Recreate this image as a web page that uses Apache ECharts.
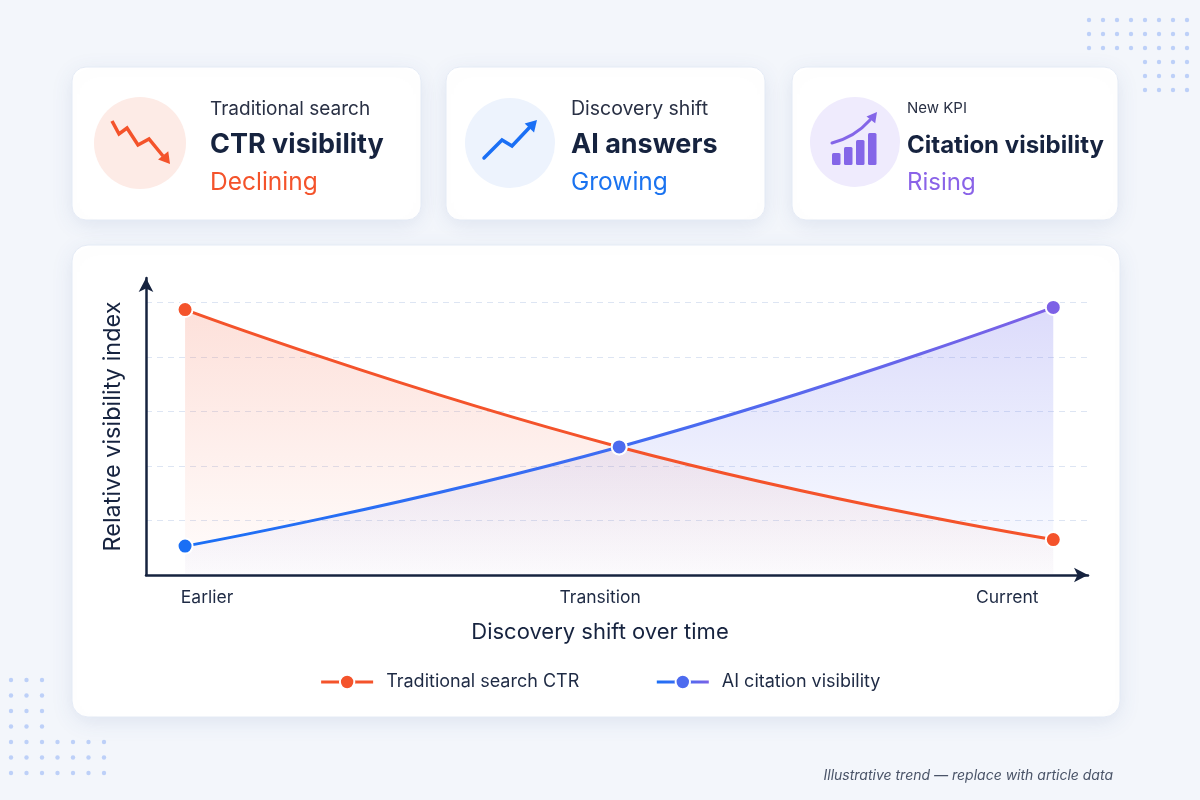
<!DOCTYPE html>
<html>
<head>
<meta charset="utf-8">
<title>Discovery shift over time</title>
<script src="https://cdn.jsdelivr.net/npm/echarts@6/dist/echarts.min.js"></script>
<style>
  html, body { margin: 0; padding: 0; background: #f3f6fb; }
  #container { width: 1200px; height: 800px; }
</style>
</head>
<body>
<div id="container"></div>
<script>
// data
var stages = ['Earlier', 'Transition', 'Current'];
var ctrValues = [4.87, 2.35, 0.65];
var aiValues = [0.53, 2.35, 4.91];
var aiPointColors = ['#1a6ff5', '#4d6bef', '#7d61e6'];

var FONT = 'Inter, "Noto Sans", sans-serif';
var NAVY = '#16233f';

function pairs(vals) {
    return vals.map(function (v, i) { return [i, v]; });
}

// background dots
function dots(x0, y0, cols, rows, step) {
    var out = [];
    for (var r = 0; r < rows; r++) {
        for (var c = 0; c < cols; c++) {
            out.push({
                type: 'circle', silent: true, z: -20,
                shape: { cx: x0 + c * step, cy: y0 + r * step, r: 2.2 },
                style: { fill: '#bdd0f8' }
            });
        }
    }
    return out;
}

function panel(x, y, w, h, r) {
    return {
        type: 'rect', silent: true, z: -10,
        shape: { x: x, y: y, width: w, height: h, r: r },
        style: {
            fill: '#ffffff', stroke: '#e4eaf5', lineWidth: 1,
            shadowBlur: 22, shadowColor: 'rgba(60,90,160,0.10)', shadowOffsetY: 5
        }
    };
}

function txt(x, y, text, size, weight, color) {
    return {
        type: 'text', silent: true, z: 5,
        style: {
            x: x, y: y, text: text, fill: color,
            font: weight + ' ' + size + 'px ' + FONT,
            align: 'left', verticalAlign: 'middle'
        }
    };
}

function arrowHead(tip, dir, len, half, color) {
    var n = Math.sqrt(dir[0] * dir[0] + dir[1] * dir[1]);
    var dx = dir[0] / n, dy = dir[1] / n;
    var bx = tip[0] - dx * len, by = tip[1] - dy * len;
    return {
        type: 'polygon', silent: true, z: 6,
        shape: { points: [tip, [bx - dy * half, by + dx * half], [bx + dy * half, by - dx * half]] },
        style: { fill: color }
    };
}

var graphics = [];
graphics = graphics.concat(dots(11, 680, 3, 4, 15.5), dots(11, 742, 7, 3, 15.5));
graphics = graphics.concat(dots(1089, 20, 8, 3, 14), dots(1145, 62, 4, 3, 14));

// cards
graphics.push(panel(72, 67, 349, 153, 14));
graphics.push(panel(446, 67, 319, 153, 14));
graphics.push(panel(792, 67, 326, 153, 14));
// chart panel
graphics.push(panel(72, 245, 1048, 472, 16));

// card 1
graphics.push({ type: 'circle', silent: true, z: 4, shape: { cx: 140, cy: 143, r: 46 }, style: { fill: '#fdebe6' } });
graphics.push({
    type: 'polyline', silent: true, z: 6,
    shape: { points: [[112, 121], [119, 134], [127, 128], [138, 145], [149, 139], [163, 156]] },
    style: { stroke: '#f4532b', lineWidth: 3.5, lineJoin: 'miter', fill: null }
});
graphics.push(arrowHead([170, 164], [19, 24], 11, 6.5, '#f4532b'));
graphics.push(txt(210, 109, 'Traditional search', 19, 'normal', '#2a3145'));
graphics.push(txt(210, 145, 'CTR visibility', 27, 'bold', NAVY));
graphics.push(txt(210, 183, 'Declining', 24.5, 'normal', '#f4532b'));

// card 2
graphics.push({ type: 'circle', silent: true, z: 4, shape: { cx: 510, cy: 143, r: 45 }, style: { fill: '#edf3fd' } });
graphics.push({
    type: 'polyline', silent: true, z: 6,
    shape: { points: [[484, 158], [502, 140], [512, 146], [529, 128]] },
    style: { stroke: '#1a6ff5', lineWidth: 3.5, lineCap: 'round', fill: null }
});
graphics.push(arrowHead([537, 120], [25, -26], 11, 6.5, '#1a6ff5'));
graphics.push(txt(571, 109, 'Discovery shift', 19.5, 'normal', '#2a3145'));
graphics.push(txt(571, 145, 'AI answers', 27, 'bold', NAVY));
graphics.push(txt(571, 183, 'Growing', 24.5, 'normal', '#1a73f0'));

// card 3
graphics.push({ type: 'circle', silent: true, z: 4, shape: { cx: 855, cy: 142, r: 45 }, style: { fill: '#efebfd' } });
[[832, 153, 12], [844, 147, 18], [856, 140, 25], [868, 133, 32]].forEach(function (b) {
    graphics.push({
        type: 'rect', silent: true, z: 6,
        shape: { x: b[0], y: b[1], width: 8.5, height: b[2], r: 1.5 },
        style: { fill: '#8466e8' }
    });
});
graphics.push({
    type: 'bezierCurve', silent: true, z: 6,
    shape: { x1: 832, y1: 143, cpx1: 855, cpy1: 137, x2: 870, y2: 120 },
    style: { stroke: '#8466e8', lineWidth: 3, fill: null, lineCap: 'round' }
});
graphics.push(arrowHead([877, 112], [14, -18], 10, 5.5, '#8466e8'));
graphics.push(txt(907, 108, 'New KPI', 15, 'normal', '#2a3145'));
graphics.push(txt(907, 146, 'Citation visibility', 24, 'bold', NAVY));
graphics.push(txt(907, 183, 'Rising', 24, 'normal', '#8a63e8'));

// footnote
graphics.push({
    type: 'text', silent: true, z: 5,
    style: {
        x: 1113, y: 776, text: 'Illustrative trend \u2014 replace with article data',
        fill: '#4a5468', font: 'italic 14px ' + FONT, align: 'right', verticalAlign: 'middle'
    }
});

var dom = document.getElementById('container');
var myChart = echarts.init(dom);

var aiLineGrad = new echarts.graphic.LinearGradient(0, 0, 1, 0, [
    { offset: 0, color: '#1a6ff5' },
    { offset: 0.5, color: '#3f6cf2' },
    { offset: 1, color: '#7d61e6' }
]);

var labelStyle = { fontFamily: FONT, fontSize: 17.5, color: '#1e2a44' };

option = {
    animation: false,
    graphic: graphics,
    grid: { left: 146, right: 112, top: 278, bottom: 225 },
    legend: {
        data: [
            { name: 'Traditional search CTR' },
            { name: 'AI citation visibility', itemStyle: { color: '#4d6bef' } }
        ],
        bottom: 104,
        left: 'center',
        itemWidth: 52,
        itemHeight: 18,
        itemGap: 76,
        lineStyle: { width: 3 },
        textStyle: { fontFamily: FONT, fontSize: 18, color: '#1e2a44', padding: [0, 0, 0, 8] }
    },
    xAxis: {
        type: 'value',
        min: -0.09,
        max: 2.08,
        name: 'Discovery shift over time',
        nameLocation: 'middle',
        nameGap: 46,
        nameTextStyle: { fontFamily: FONT, fontSize: 22, color: NAVY, padding: [0, 34, 0, 0] },
        axisLine: {
            show: true, onZero: false,
            symbol: ['none', 'arrow'], symbolSize: [11, 14],
            lineStyle: { color: NAVY, width: 2.5 }
        },
        axisTick: { show: false },
        splitLine: { show: false },
        axisLabel: {
            customValues: [0, 1, 2],
            margin: 14,
            formatter: function (v) {
                var k = ['a', 'b', 'c'][Math.round(v)];
                return '{' + k + '|' + stages[Math.round(v)] + '}';
            },
            rich: {
                a: Object.assign({ padding: [0, 0, 0, 44] }, labelStyle),
                b: Object.assign({ padding: [0, 38, 0, 0] }, labelStyle),
                c: Object.assign({ padding: [0, 92, 0, 0] }, labelStyle)
            }
        }
    },
    yAxis: {
        type: 'value',
        min: 0,
        max: 5.45,
        interval: 1,
        name: 'Relative visibility index',
        nameLocation: 'middle',
        nameGap: 21,
        nameTextStyle: { fontFamily: FONT, fontSize: 23.5, color: NAVY },
        axisLine: {
            show: true, onZero: false,
            symbol: ['none', 'arrow'], symbolSize: [11, 14],
            lineStyle: { color: NAVY, width: 2.5 }
        },
        axisTick: { show: false },
        axisLabel: { show: false },
        splitLine: {
            show: true, showMinLine: false, showMaxLine: false,
            lineStyle: { color: '#dde5f3', type: [6, 5], width: 1 }
        }
    },
    series: [
        {
            name: 'ctrArea', type: 'line', data: pairs(ctrValues), smooth: 0.5,
            silent: true, showSymbol: false, z: 1,
            lineStyle: { width: 0 },
            areaStyle: {
                color: new echarts.graphic.LinearGradient(0, 0, 0, 1, [
                    { offset: 0, color: 'rgba(246,110,80,0.30)' },
                    { offset: 1, color: 'rgba(246,110,80,0.02)' }
                ])
            }
        },
        {
            name: 'aiArea', type: 'line', data: pairs(aiValues), smooth: 0.5,
            silent: true, showSymbol: false, z: 1,
            lineStyle: { width: 0 },
            areaStyle: {
                color: new echarts.graphic.LinearGradient(0, 0, 0, 1, [
                    { offset: 0, color: 'rgba(118,112,238,0.36)' },
                    { offset: 1, color: 'rgba(100,130,245,0.03)' }
                ])
            }
        },
        {
            name: 'Traditional search CTR', type: 'line', data: pairs(ctrValues), smooth: 0.5,
            symbol: 'circle', symbolSize: 15, z: 3,
            lineStyle: { color: '#f4532b', width: 3 },
            itemStyle: { color: '#f4532b', borderColor: '#ffffff', borderWidth: 2 }
        },
        {
            name: 'AI citation visibility', type: 'line', data: pairs(aiValues), smooth: 0.5,
            symbol: 'circle', symbolSize: 15, z: 4,
            lineStyle: { color: aiLineGrad, width: 3 },
            itemStyle: {
                color: function (p) { return aiPointColors[p.dataIndex]; },
                borderColor: '#ffffff', borderWidth: 2
            }
        }
    ]
};
myChart.setOption(option);

window.addEventListener('resize', function () {
    myChart.resize();
});
</script>
</body>
</html>
